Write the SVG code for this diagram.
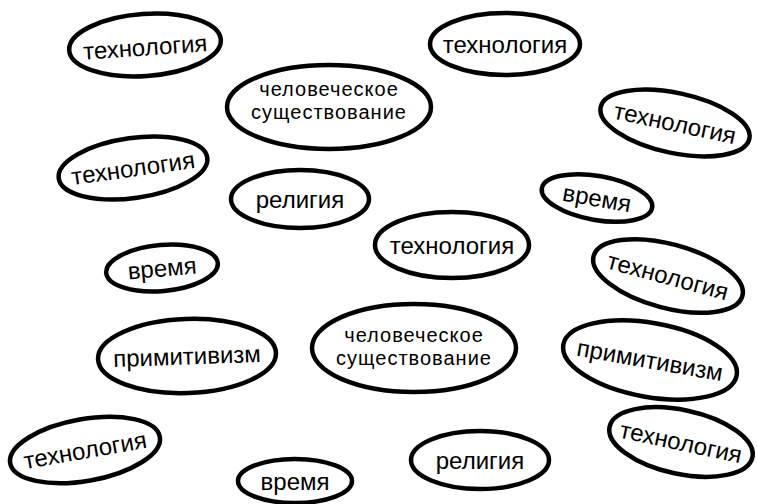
<svg xmlns="http://www.w3.org/2000/svg" width="757" height="504" viewBox="0 0 757 504">
<style>
.n ellipse{fill:#fff;stroke:#000;stroke-width:4.5}
.n text{font-family:"Liberation Sans","DejaVu Sans",sans-serif;font-size:24px;fill:#000;text-anchor:middle;dominant-baseline:central}
.n text.s{font-size:20px;letter-spacing:1px}
</style>
<rect width="757" height="504" fill="#fff"/>
<g id="connectors"></g>
<g id="n1" class="n" transform="translate(145,45) rotate(-4)"><ellipse rx="76" ry="31"/><text y="2">технология</text></g>
<g id="n2" class="n" transform="translate(505,44) rotate(0)"><ellipse rx="75" ry="31"/><text>технология</text></g>
<g id="n3" class="n" transform="translate(329,107)"><ellipse rx="102" ry="42"/><text class="s" y="-18">человеческое</text><text class="s" y="5">существование</text></g>
<g id="n4" class="n" transform="translate(675,123) rotate(12)"><ellipse rx="76" ry="30"/><text>технология</text></g>
<g id="n5" class="n" transform="translate(133,168) rotate(-8)"><ellipse rx="75" ry="30"/><text>технология</text></g>
<g id="n6" class="n" transform="translate(300,199)"><ellipse rx="69" ry="29"/><text>религия</text></g>
<g id="n7" class="n" transform="translate(597,198) rotate(10)"><ellipse rx="56" ry="22"/><text>время</text></g>
<g id="n8" class="n" transform="translate(452,245)"><ellipse rx="77" ry="33"/><text>технология</text></g>
<g id="n9" class="n" transform="translate(162,268) rotate(-5)"><ellipse rx="56" ry="23"/><text>время</text></g>
<g id="n10" class="n" transform="translate(668,276) rotate(15)"><ellipse rx="77" ry="32"/><text>технология</text></g>
<g id="n11" class="n" transform="translate(187,356) rotate(-2)"><ellipse rx="89" ry="37"/><text>примитивизм</text></g>
<g id="n12" class="n" transform="translate(414,348)"><ellipse rx="102" ry="44"/><text class="s" y="-13">человеческое</text><text class="s" y="10">существование</text></g>
<g id="n13" class="n" transform="translate(650,360) rotate(10)"><ellipse rx="88" ry="37"/><text>примитивизм</text></g>
<g id="n14" class="n" transform="translate(85,450) rotate(-10)"><ellipse rx="76" ry="31"/><text>технология</text></g>
<g id="n15" class="n" transform="translate(681,442) rotate(12)"><ellipse rx="73" ry="32"/><text>технология</text></g>
<g id="n16" class="n" transform="translate(480,460)"><ellipse rx="69" ry="29"/><text>религия</text></g>
<g id="n17" class="n" transform="translate(295,481)"><ellipse rx="57" ry="22"/><text>время</text></g>
</svg>
